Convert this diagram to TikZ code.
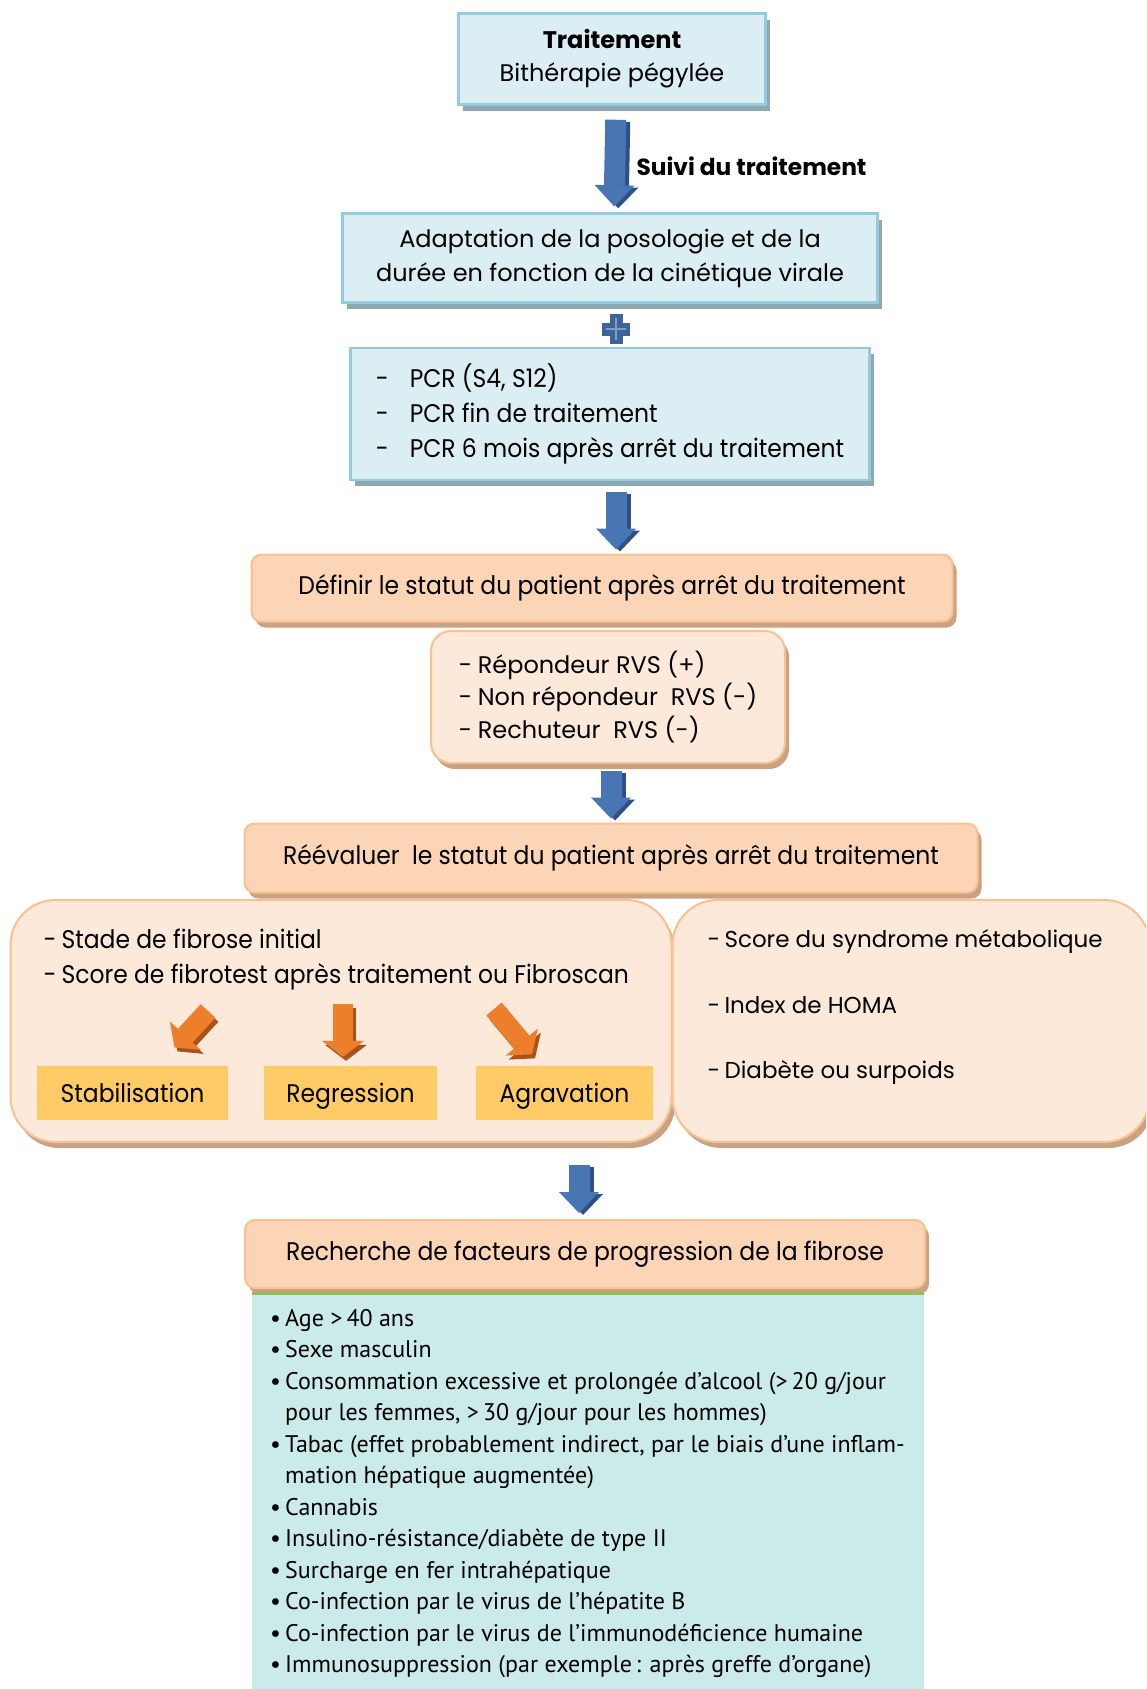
\documentclass[tikz,border=0pt]{standalone}
\usepackage{fontspec}
\setmainfont{Poppins}
\newfontfamily\narrowfont[FakeStretch=0.92]{Poppins}
\newfontfamily\listfont{PT Sans}
\usetikzlibrary{arrows.meta,shadows}

\definecolor{boxblue}{HTML}{DBEEF4}
\definecolor{boxblueline}{HTML}{93CDDD}
\definecolor{blueshadow}{HTML}{8EA8AF}
\definecolor{peach}{HTML}{FBD5B5}
\definecolor{peachlight}{HTML}{FDE9D9}
\definecolor{peachline}{HTML}{FAC090}
\definecolor{peachshadow}{HTML}{C9A183}
\definecolor{stagefill}{HTML}{FECB66}
\definecolor{listfill}{HTML}{CBEAEA}
\definecolor{listline}{HTML}{9BBB59}
\definecolor{arrowblue}{HTML}{4876B5}
\definecolor{arrowbluedark}{HTML}{2E5084}
\definecolor{arroworange}{HTML}{EC7E2C}
\definecolor{arroworangedark}{HTML}{A9521A}

\tikzset{
  bluebox/.style={draw=boxblueline, line width=2.5pt, fill=boxblue,
    drop shadow={shadow xshift=4pt, shadow yshift=-6pt, fill=blueshadow, opacity=1}},
  peachbox/.style={draw=peachline, line width=2pt, fill=peach, rounded corners=10pt,
    drop shadow={shadow xshift=4pt, shadow yshift=-6pt, fill=peachshadow, opacity=1}},
  softbox/.style={peachbox, fill=peachlight},
  stagebox/.style={fill=stagefill, minimum height=54pt, text height=18pt, text depth=0pt,
    font=\narrowfont\fontsize{25.5}{28}\selectfont},
  bluearrow/.style={line width=21pt, draw=arrowblue,
    -{Triangle[width=40pt,length=21pt,line width=0pt]}},
  blueback/.style={bluearrow, draw=arrowbluedark, transform canvas={xshift=4pt,yshift=-2pt}},
  orangearrow/.style={line width=20pt, draw=arroworange,
    -{Triangle[width=42pt,length=16pt,line width=0pt]}},
  orangeback/.style={orangearrow, draw=arroworangedark, transform canvas={xshift=3pt,yshift=-4pt}},
  widetext/.style={font=\fontsize{24}{34}\selectfont},
  narrowtext/.style={font=\narrowfont\fontsize{25.5}{34}\selectfont},
}

\begin{document}
\begin{tikzpicture}[x=1pt,y=-1pt]
\useasboundingbox (0,0) rectangle (1146,1689);
\clip (0,0) rectangle (1146,1689);

% treatment and follow-up
\node[bluebox, minimum width=307pt, minimum height=91pt, align=center,
  font=\fontsize{24}{33}\selectfont] (trt) at (612,59)
  {{\bfseries Traitement}\\Bithérapie pégylée};
\node[anchor=west, font=\bfseries\fontsize{23.3}{28}\selectfont] (suivi) at (633,166) {Suivi du traitement};

\node[bluebox, widetext, minimum width=535pt, minimum height=89pt, align=center] (adapt) at (610,258)
  {Adaptation de la posologie et de la\\durée en fonction de la cinétique virale};

% plus sign between the two blue boxes
\coordinate (plus) at (616,329);
\fill[arrowblue!85!black] (plus) ++(-6.5,-15) rectangle ++(13,30);
\fill[arrowblue!85!black] (plus) ++(-14,-6.5) rectangle ++(28,13);
\draw[arrowblue!70!white, line width=1.5pt] (plus) ++(0,-11) -- ++(0,22);
\draw[arrowblue!70!white, line width=1.5pt] (plus) ++(-10,0) -- ++(20,0);

\node[bluebox, minimum width=519pt, minimum height=132pt, align=left,
  font=\narrowfont\fontsize{25.5}{35}\selectfont] (pcr) at (610,414)
  {\makebox[34pt][l]{-}PCR (S4, S12)\\
   \makebox[34pt][l]{-}PCR fin de traitement\\
   \makebox[34pt][l]{-}PCR 6 mois après arrêt du traitement};

% status after treatment
\node[peachbox, narrowtext, minimum width=701pt, minimum height=67pt] (statut) at (602,588)
  {Définir le statut du patient après arrêt du traitement};
\node[softbox, rounded corners=20pt, minimum width=354pt, minimum height=132pt,
  align=left, font=\fontsize{24}{32.5}\selectfont] (rvs) at (608,697)
  {\makebox[19pt][l]{-}Répondeur RVS (+)\\
   \makebox[19pt][l]{-}Non répondeur\ \ RVS (-)\\
   \makebox[19pt][l]{-}Rechuteur\ \ RVS (-)};

\node[peachbox, narrowtext, minimum width=733pt, minimum height=69pt] (reeval) at (611,858)
  {Réévaluer\ \ le statut du patient après arrêt du traitement};

% fibrosis and metabolic assessment
\node[softbox, rounded corners=45pt, minimum width=661pt, minimum height=242pt] (fibro) at (341,1021) {};
\node[softbox, rounded corners=45pt, minimum width=477pt, minimum height=242pt] (meta) at (911,1021) {};

\node[anchor=west, align=left, font=\narrowfont\fontsize{25.5}{35}\selectfont] (fibrotxt) at (40,960)
  {\makebox[18pt][l]{-}Stade de fibrose initial\\
   \makebox[18pt][l]{-}Score de fibrotest après traitement ou Fibroscan};
\node[anchor=west, align=left, font=\fontsize{23}{65.5}\selectfont] (metatxt) at (704,1007)
  {\makebox[17pt][l]{-}Score du syndrome métabolique\\
   \makebox[17pt][l]{-}Index de HOMA\\
   \makebox[17pt][l]{-}Diabète ou surpoids};

\node[stagebox, minimum width=191pt] (stab) at (132.5,1093) {Stabilisation};
\node[stagebox, minimum width=173pt] (regr) at (350.5,1093) {Regression};
\node[stagebox, minimum width=177pt] (agrav) at (564.5,1093) {Agravation};

\coordinate (stabtail) at (208,1011);
\coordinate (regrtail) at (343,1004);
\coordinate (agravtail) at (494,1009);
\draw[orangeback, shorten >=25pt] (stabtail) -- (stab);
\draw[orangearrow, shorten >=25pt] (stabtail) -- (stab);
\draw[orangeback, shorten >=9pt] (regrtail) -- (regrtail |- regr.north);
\draw[orangearrow, shorten >=9pt] (regrtail) -- (regrtail |- regr.north);
\draw[orangeback, shorten >=15pt] (agravtail) -- (agrav);
\draw[orangearrow, shorten >=15pt] (agravtail) -- (agrav);

% progression factors
\node[peachbox, narrowtext, minimum width=680pt, minimum height=68pt] (rech) at (585,1254)
  {Recherche de facteurs de progression de la fibrose};
\node[fill=listfill, anchor=north west, minimum width=672pt, minimum height=420pt] (factors) at (252,1293) {};
\draw[listline, line width=3pt] (factors.north west) -- (factors.north east);
\node[anchor=north west, inner sep=0pt, align=left, font=\listfont\fontsize{24}{31.5}\selectfont] (factlist) at (270,1309)
  {\makebox[15pt][l]{\textbullet}Age >\,40 ans\\
   \makebox[15pt][l]{\textbullet}Sexe masculin\\
   \makebox[15pt][l]{\textbullet}Consommation excessive et prolongée d’alcool (>\,20 g/jour\\
   \makebox[15pt][l]{}pour les femmes, >\,30 g/jour pour les hommes)\\
   \makebox[15pt][l]{\textbullet}Tabac (effet probablement indirect, par le biais d’une inflam-\\
   \makebox[15pt][l]{}mation hépatique augmentée)\\
   \makebox[15pt][l]{\textbullet}Cannabis\\
   \makebox[15pt][l]{\textbullet}Insulino-résistance/diabète de type II\\
   \makebox[15pt][l]{\textbullet}Surcharge en fer intrahépatique\\
   \makebox[15pt][l]{\textbullet}Co-infection par le virus de l’hépatite B\\
   \makebox[15pt][l]{\textbullet}Co-infection par le virus de l’immunodéficience humaine\\
   \makebox[15pt][l]{\textbullet}Immunosuppression (par exemple\,: après greffe d’organe)};

% block arrows between the steps
\draw[blueback, shorten <=14pt, shorten >=6pt] ([xshift=4pt]trt.south) -- ([xshift=4pt]adapt.north);
\draw[bluearrow, shorten <=14pt, shorten >=6pt] ([xshift=4pt]trt.south) -- ([xshift=4pt]adapt.north);
\draw[blueback, shorten <=11pt, shorten >=4pt] ([xshift=6pt]pcr.south) -- ([xshift=6pt]pcr.south |- statut.north);
\draw[bluearrow, shorten <=11pt, shorten >=4pt] ([xshift=6pt]pcr.south) -- ([xshift=6pt]pcr.south |- statut.north);
\draw[blueback, shorten <=7pt, shorten >=4pt] ([xshift=3pt]rvs.south) -- ([xshift=3pt]rvs.south |- reeval.north);
\draw[bluearrow, shorten <=7pt, shorten >=4pt] ([xshift=3pt]rvs.south) -- ([xshift=3pt]rvs.south |- reeval.north);
\draw[blueback, shorten <=22pt, shorten >=6pt] ([xshift=-6pt]rech.north |- fibro.south) -- ([xshift=-6pt]rech.north);
\draw[bluearrow, shorten <=22pt, shorten >=6pt] ([xshift=-6pt]rech.north |- fibro.south) -- ([xshift=-6pt]rech.north);
\end{tikzpicture}
\end{document}
